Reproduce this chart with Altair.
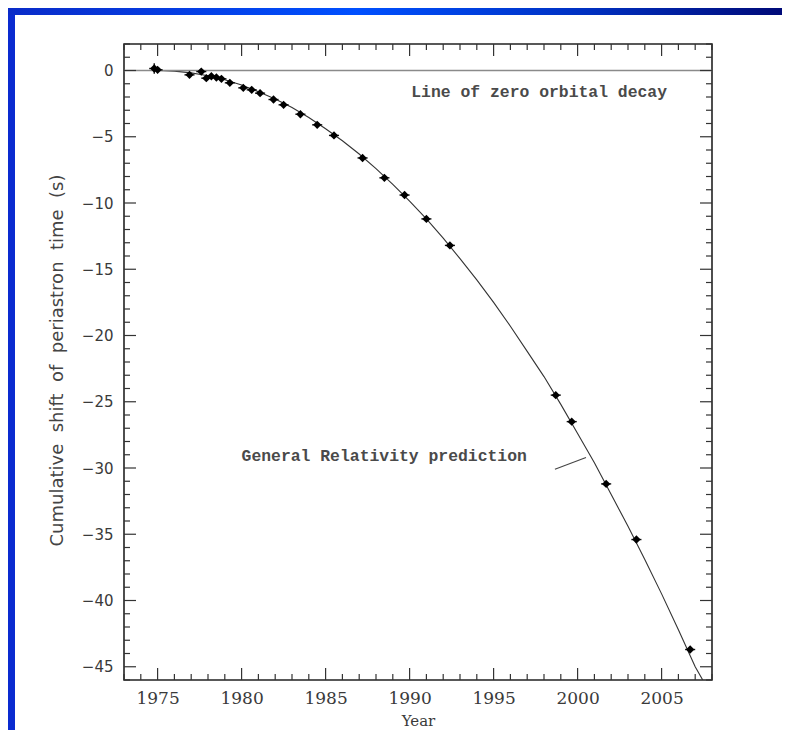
import altair as alt
import pandas as pd

# ---- data ----
obs_year = [1974.8, 1975.0, 1976.9, 1977.6, 1977.9, 1978.2, 1978.5, 1978.8, 1979.3,
            1980.1, 1980.6, 1981.1, 1981.9, 1982.5, 1983.5, 1984.5, 1985.5, 1987.2,
            1988.5, 1989.7, 1991.0, 1992.4, 1998.7, 1999.65, 2001.7, 2003.5, 2006.7]
obs_shift = [0.15, 0.05, -0.33, -0.08, -0.58, -0.43, -0.53, -0.63, -0.93,
             -1.31, -1.46, -1.71, -2.19, -2.59, -3.3, -4.1, -4.9, -6.6,
             -8.1, -9.4, -11.2, -13.2, -24.5, -26.5, -31.2, -35.4, -43.7]
obs_xerr = [0.3] * len(obs_year)
first_yerr = [0.4]

gr_year = [1974.5, 1975.0, 1976.0, 1977.0, 1978.0, 1979.0, 1980.0, 1981.0, 1982.0,
           1983.0, 1984.0, 1985.0, 1986.0, 1987.0, 1988.0, 1989.0, 1990.0, 1991.0,
           1992.0, 1993.0, 1994.0, 1995.0, 1996.0, 1997.0, 1998.0, 1999.0, 2000.0,
           2001.0, 2002.0, 2003.0, 2004.0, 2005.0, 2006.0, 2007.0, 2007.45]
gr_shift = [0.0, 0.0, -0.05, -0.18, -0.4, -0.7, -1.1, -1.6, -2.15,
            -2.8, -3.55, -4.4, -5.3, -6.3, -7.4, -8.6, -9.85, -11.2,
            -12.65, -14.2, -15.8, -17.5, -19.3, -21.2, -23.1, -25.2, -27.4,
            -29.6, -32.0, -34.4, -36.9, -39.5, -42.2, -45.0, -46.0]

x_tick_labels = [1975, 1980, 1985, 1990, 1995, 2000, 2005]
y_tick_labels = [0, -5, -10, -15, -20, -25, -30, -35, -40, -45]
x_domain = [1973, 2008]
y_domain = [-46, 2]

y_title_words = ["Cumulative", "shift", "of", "periastron", "time", "(s)"]
notes_text = ["Line of zero orbital decay", "General Relativity prediction"]
notes_x = [1990.1, 1980.0]
notes_y = [-1.66, -29.1]
leader_x = [1998.65, 2000.5]
leader_y = [-30.1, -29.2]

W, H = 588, 636
MAJ, MIN = 12, 6
SERIF = "DejaVu Serif"
MONO = "Liberation Mono"
SANS = "DejaVu Sans"
INK = "#3a3a3a"

xs = alt.Scale(domain=x_domain, nice=False, zero=False)
ys = alt.Scale(domain=y_domain, nice=False, zero=False)

AX_X = alt.Axis(
    values=x_tick_labels, format="d", title="Year", grid=False, ticks=False,
    tickSize=0, domain=False, labelFont=SERIF, labelFontSize=17,
    labelColor=INK, labelPadding=10, titleFont=SERIF, titleFontSize=15,
    titleFontWeight="normal", titleColor=INK, titleY=40, titleBaseline="middle")
AX_Y = alt.Axis(
    values=y_tick_labels, title=" \u00a0".join(y_title_words),
    grid=False, ticks=False, tickSize=0, domain=False, labelFont=SANS,
    labelFontSize=15, labelColor=INK, labelPadding=11, titleFont=SANS,
    titleFontSize=18, titleFontWeight="normal", titleColor="#444444",
    titleX=-67, titleY=H / 2 - 2, titleBaseline="middle")


def X(f):
    return alt.X(f, scale=xs, axis=AX_X)


def Y(f):
    return alt.Y(f, scale=ys, axis=AX_Y)


obs = pd.DataFrame({"year": obs_year, "shift": obs_shift, "err": obs_xerr})
obs["lo"] = obs["year"] - obs["err"]
obs["hi"] = obs["year"] + obs["err"]
gr = pd.DataFrame({"year": gr_year, "shift": gr_shift})
first = pd.DataFrame({"year": [obs_year[0]], "lo": [obs_shift[0] - first_yerr[0]],
                      "hi": [obs_shift[0] + first_yerr[0]]})
notes = pd.DataFrame({"x": notes_x, "y": notes_y, "t": notes_text})
leader = pd.DataFrame({"x": [leader_x[0]], "x2": [leader_x[1]],
                       "y": [leader_y[0]], "y2": [leader_y[1]]})

x_major = [v for v in range(x_domain[0], x_domain[1] + 1) if v % 5 == 0]
x_minor = [v for v in range(x_domain[0], x_domain[1] + 1) if v % 5 != 0]
y_major = [v for v in range(y_domain[0], y_domain[1] + 1) if v % 5 == 0]
y_minor = [v for v in range(y_domain[0], y_domain[1] + 1) if v % 5 != 0]

curve = alt.Chart(gr).mark_line(color="#333333", strokeWidth=1.1, clip=True).encode(
    x=X("year:Q"), y=Y("shift:Q"))

zero = alt.Chart(pd.DataFrame({"y": [0]})).mark_rule(color="#8a8a8a", strokeWidth=1.3).encode(
    y=Y("y:Q"))

xerr = alt.Chart(obs).mark_rule(color="#111111", strokeWidth=1.4).encode(
    x=X("lo:Q"), x2="hi:Q", y=Y("shift:Q"))
yerr = alt.Chart(first).mark_rule(color="#111111", strokeWidth=1.4).encode(
    x=X("year:Q"), y=Y("lo:Q"), y2="hi:Q")
pts = alt.Chart(obs).mark_point(filled=True, shape="diamond", size=70, color="#000000",
                                opacity=1).encode(x=X("year:Q"), y=Y("shift:Q"))

txt = alt.Chart(notes).mark_text(align="left", baseline="middle", font=MONO,
                                 fontSize=16.4, fontWeight="bold", color="#4a4a4a").encode(
    x=X("x:Q"), y=Y("y:Q"), text="t:N")
lead = alt.Chart(leader).mark_rule(color="#444444", strokeWidth=1.1).encode(
    x=X("x:Q"), x2="x2:Q", y=Y("y:Q"), y2="y2:Q")


def xticks(vals, length, top):
    d = pd.DataFrame({"v": vals})
    y0, y1 = (0, length) if top else (H, H - length)
    return alt.Chart(d).mark_rule(color="#333333", strokeWidth=1.2).encode(
        x=X("v:Q"), y=alt.value(y0), y2=alt.value(y1))


def yticks(vals, length, right):
    d = pd.DataFrame({"v": vals})
    x0, x1 = (W, W - length) if right else (0, length)
    return alt.Chart(d).mark_rule(color="#333333", strokeWidth=1.2).encode(
        y=Y("v:Q"), x=alt.value(x0), x2=alt.value(x1))


ticks = [xticks(x_major, MAJ, False), xticks(x_minor, MIN, False),
         xticks(x_major, MAJ, True), xticks(x_minor, MIN, True),
         yticks(y_major, MAJ, False), yticks(y_minor, MIN, False),
         yticks(y_major, MAJ, True), yticks(y_minor, MIN, True)]

# blue slide frame (left and top strips)
frame_df = pd.DataFrame({"k": [0]})
left_strip = alt.Chart(frame_df).mark_rect(color="#0a2bd0").encode(
    x=alt.value(-116), x2=alt.value(-109), y=alt.value(-36), y2=alt.value(H + 50))
top_strip = alt.Chart(frame_df).mark_rect(
    color=alt.Gradient(gradient="linear", x1=0, x2=1, y1=0, y2=0,
                       stops=[alt.GradientStop(color="#0a2bc8", offset=0),
                              alt.GradientStop(color="#0050ff", offset=0.45),
                              alt.GradientStop(color="#0030c0", offset=0.75),
                              alt.GradientStop(color="#000a78", offset=1)])).encode(
    x=alt.value(-116), x2=alt.value(W + 70), y=alt.value(-36), y2=alt.value(-29))

chart = alt.layer(curve, zero, xerr, yerr, pts, txt, lead, *ticks, left_strip, top_strip).properties(
    width=W, height=H,
    autosize=alt.AutoSizeParams(type="none"),
    padding={"left": 116, "top": 36, "right": 70, "bottom": 50},
    background="white",
).configure_view(stroke="#222222", strokeWidth=1.6)

chart.save("out.html", embed_options={"renderer": "svg", "actions": False})
